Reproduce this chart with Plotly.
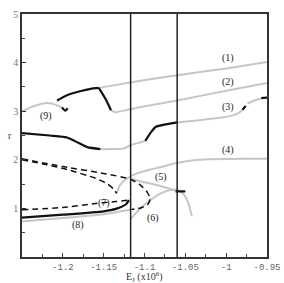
import plotly.graph_objects as go

# ---- data ----
c1_x = [-1.156, -1.103, -1.06, -1.0, -0.95]
c1_y = [3.48, 3.63, 3.74, 3.88, 4.01]

c2_black_x = [-1.156, -1.148, -1.141]
c2_black_y = [3.48, 3.26, 3.02]
c2_x = [-1.141, -1.136, -1.12, -1.103, -1.06, -1.0, -0.95]
c2_y = [3.02, 2.98, 3.03, 3.09, 3.22, 3.42, 3.58]

c9_black_x = [-1.207, -1.195, -1.179, -1.166, -1.156]
c9_black_y = [3.22, 3.33, 3.41, 3.46, 3.48]
c9_x = [-1.25, -1.236, -1.224, -1.214, -1.207, -1.201]
c9_y = [3.0, 3.1, 3.16, 3.16, 3.12, 3.07]
c9_hook_x = [-1.201, -1.197, -1.194]
c9_hook_y = [3.08, 3.01, 3.06]

c3a_x = [-1.25, -1.216, -1.195, -1.181, -1.170, -1.154]
c3a_y = [2.55, 2.50, 2.46, 2.35, 2.26, 2.22]
c3b_x = [-1.154, -1.142, -1.126, -1.117, -1.105, -1.099]
c3b_y = [2.22, 2.22, 2.23, 2.30, 2.36, 2.39]
c3c_x = [-1.099, -1.092, -1.086, -1.074, -1.060]
c3c_y = [2.39, 2.57, 2.68, 2.73, 2.77]
c3d_x = [-1.060, -1.03, -1.005, -0.991, -0.984, -0.980]
c3d_y = [2.77, 2.82, 2.87, 2.92, 2.97, 3.03]
c3e_x = [-0.980, -0.976]
c3e_y = [3.03, 3.11]
c3f_x = [-0.974, -0.967, -0.957]
c3f_y = [3.15, 3.21, 3.26]
c3g_x = [-0.957, -0.95]
c3g_y = [3.27, 3.28]

c4_x = [-1.134, -1.130, -1.121, -1.109, -1.093, -1.080, -1.062, -1.040, -1.021, -0.98, -0.95]
c4_y = [1.31, 1.48, 1.62, 1.72, 1.80, 1.85, 1.93, 1.99, 2.01, 2.02, 2.02]

inner_dash_x = [-1.25, -1.22, -1.195, -1.16, -1.145, -1.138, -1.134]
inner_dash_y = [2.0, 1.9, 1.80, 1.62, 1.50, 1.40, 1.31]

outer_dash_x = [-1.25, -1.2, -1.15, -1.117, -1.105, -1.097, -1.093, -1.096, -1.105, -1.116]
outer_dash_y = [2.02, 1.86, 1.72, 1.60, 1.48, 1.34, 1.20, 1.08, 1.01, 0.98]

c7_x = [-1.25, -1.2, -1.16, -1.135, -1.119]
c7_y = [0.97, 1.02, 1.10, 1.14, 1.17]

c7_black_x = [-1.25, -1.2, -1.15, -1.135, -1.123, -1.119]
c7_black_y = [0.81, 0.87, 0.94, 0.99, 1.08, 1.17]

c8_x = [-1.25, -1.2, -1.15, -1.117]
c8_y = [0.73, 0.80, 0.88, 0.97]

c5_x = [-1.115, -1.10, -1.085, -1.07, -1.058]
c5_y = [1.60, 1.54, 1.48, 1.41, 1.36]
c5_black_x = [-1.062, -1.050]
c5_black_y = [1.35, 1.35]

c6_x = [-1.117, -1.105, -1.093, -1.080, -1.068, -1.058, -1.051, -1.046, -1.044, -1.042]
c6_y = [0.78, 1.00, 1.17, 1.31, 1.38, 1.37, 1.27, 1.10, 0.96, 0.84]

vlines_x = [-1.117, -1.06]

label_text = ["(1)", "(2)", "(3)", "(4)", "(5)", "(6)", "(7)", "(8)", "(9)"]
label_x = [-0.998, -0.998, -0.998, -0.998, -1.080, -1.090, -1.150, -1.181, -1.221]
label_y = [4.10, 3.60, 3.09, 2.21, 1.64, 0.80, 1.11, 0.65, 2.90]

x_tickvals = [-1.2, -1.15, -1.1, -1.05, -1.0, -0.95]
x_ticktext = ["-1.2", "-1.15", "-1.1", "-1.05", "-1", "-0.95"]
y_tickvals = [1, 2, 3, 4, 5]
y_ticktext = ["1", "2", "3", "4", "5"]

GREY = "#c6c6c6"
BLACK = "#111111"

fig = go.Figure()

def add(x, y, color, width=2, dash="solid"):
    fig.add_trace(go.Scatter(x=x, y=y, mode="lines",
                             line=dict(color=color, width=width, dash=dash, shape="spline", smoothing=0.6),
                             hoverinfo="skip", showlegend=False))

# grey curves
for xs, ys in [(c1_x, c1_y), (c2_x, c2_y), (c9_x, c9_y), (c3b_x, c3b_y), (c3d_x, c3d_y),
               (c3f_x, c3f_y), (c4_x, c4_y), (c8_x, c8_y), (c5_x, c5_y), (c6_x, c6_y)]:
    add(xs, ys, GREY, 2)

# dashed curves
for xs, ys in [(inner_dash_x, inner_dash_y), (outer_dash_x, outer_dash_y), (c7_x, c7_y)]:
    add(xs, ys, BLACK, 1.5, "6px,4px")

# black solid curves
for xs, ys in [(c2_black_x, c2_black_y), (c9_black_x, c9_black_y), (c9_hook_x, c9_hook_y),
               (c3a_x, c3a_y), (c3c_x, c3c_y), (c3e_x, c3e_y), (c3g_x, c3g_y),
               (c7_black_x, c7_black_y), (c5_black_x, c5_black_y)]:
    add(xs, ys, BLACK, 2.2)

for vx in vlines_x:
    fig.add_shape(type="line", x0=vx, x1=vx, y0=0, y1=1, xref="x", yref="paper",
                  line=dict(color="#222", width=1.5))

for t, lx, ly in zip(label_text, label_x, label_y):
    fig.add_annotation(x=lx, y=ly, text=t, showarrow=False,
                       font=dict(family="Liberation Serif", size=10, color="#222"))

fig.add_annotation(x=0.5, y=-0.082, xref="paper", yref="paper",
                   text="E<sub>J</sub> (x10<sup>6</sup>)", showarrow=False, yanchor="middle",
                   font=dict(family="Liberation Serif", size=10, color="#333"))
fig.add_annotation(x=-0.065, y=0.50, xref="paper", yref="paper", text="r", showarrow=False,
                   font=dict(family="Liberation Serif", size=10, color="#444"))

fig.update_layout(
    width=284, height=283,
    margin=dict(l=22, r=17, t=14, b=26, autoexpand=False),
    paper_bgcolor="white", plot_bgcolor="white",
    xaxis=dict(range=[-1.25, -0.95], showgrid=False, zeroline=False, automargin=False,
               tickvals=x_tickvals, ticktext=x_ticktext,
               ticks="inside", ticklen=4, tickcolor="#444", tickwidth=1,
               minor=dict(tickvals=[-1.225, -1.175, -1.125, -1.075, -1.025, -0.975],
                          ticks="inside", ticklen=3, tickcolor="#444"),
               tickfont=dict(family="Liberation Mono", size=9, color="#666"),
               showline=True, linecolor="#333", linewidth=1.5, mirror=True),
    yaxis=dict(range=[0, 5], showgrid=False, zeroline=False, automargin=False,
               tickvals=y_tickvals, ticktext=y_ticktext,
               ticks="inside", ticklen=4, tickcolor="#333", tickwidth=1,
               minor=dict(tickvals=[0.5, 1.5, 2.5, 3.5, 4.5],
                          ticks="inside", ticklen=3, tickcolor="#444"),
               tickfont=dict(family="Liberation Serif", size=10, color="#777"),
               showline=True, linecolor="#333", linewidth=1.5, mirror=True),
)

fig.write_html("out.html", config={"displayModeBar": False},
               post_script="document.body.style.margin='0px';document.body.style.overflow='hidden';")
